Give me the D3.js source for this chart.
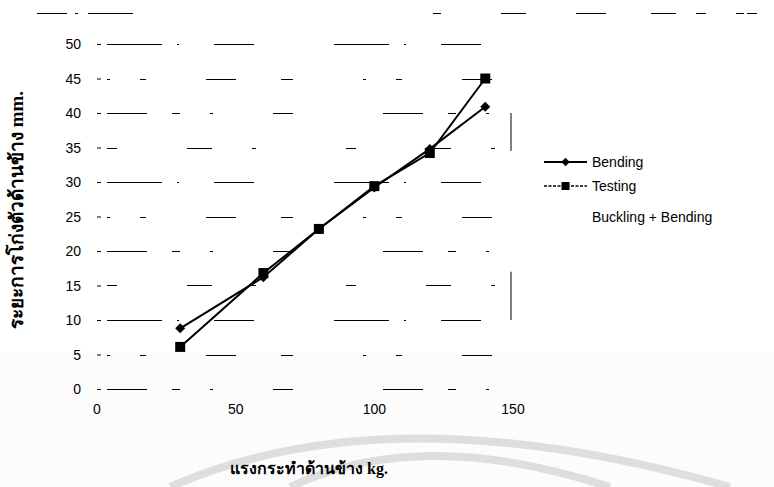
<!DOCTYPE html>
<html><head><meta charset="utf-8">
<script src="https://cdn.jsdelivr.net/npm/d3@7"></script>
<style>body{margin:0;background:#fff}svg{display:block}</style>
</head><body>
<svg id="c" width="774" height="487"></svg>
<script>
const loads = [30, 60, 80, 100, 120, 140];
const bending = [8.8, 16.2, 23.2, 29.2, 34.8, 40.9];
const testing = [6.1, 16.8, 23.2, 29.4, 34.2, 45.0];
const yTicks = [0, 5, 10, 15, 20, 25, 30, 35, 40, 45, 50];
const xTicks = [0, 50, 100, 150];
const seriesNames = ["Bending", "Testing"];
const legendExtra = "Buckling + Bending";
const yTitle = "ระยะการโก่งตัวด้านข้าง  mm.";
const xTitle = "แรงกระทำด้านข้าง kg.";

const svg = d3.select("#c");
const x = d3.scaleLinear().domain([0, 150]).range([97, 513]);
const y = d3.scaleLinear().domain([0, 50]).range([389, 44]);

// faint scan shading + watermark arcs
svg.append("rect").attr("x", 0).attr("y", 352).attr("width", 774).attr("height", 135).attr("fill", "#fcfcfc");
const wm = svg.append("g").attr("fill", "none").attr("stroke", "#dedede").attr("stroke-width", 8);
wm.append("path").attr("d", "M170,487 Q390,390 730,487");
wm.append("path").attr("d", "M290,487 Q420,425 610,487");

// fragmented gridlines (scan artefacts)
const grid = svg.append("g").attr("stroke", "#000").attr("stroke-width", 1).attr("shape-rendering", "crispEdges");
grid.selectAll("line.h").data(yTicks).join("line")
  .attr("x1", x(0) + 10).attr("x2", x(150))
  .attr("y1", d => Math.round(y(d))).attr("y2", d => Math.round(y(d)))
  .attr("stroke-dasharray", (d, i) => ["40,25,8,30,3,60,20,90", "3,30,6,60,30,45,12,70", "55,15,2,35,40,80", "10,70,25,40,4,90"][i % 4]);
// top border remnant
svg.append("line").attr("x1", 37).attr("x2", 774).attr("y1", 13).attr("y2", 13).attr("shape-rendering", "crispEdges")
  .attr("stroke", "#000").attr("stroke-width", 1).attr("stroke-dasharray", "30,8,3,10,45,300,8,60,25,50,30,45,25,20,10");

// y axis tick marks and labels
const yAx = svg.append("g").attr("transform", `translate(${x(0)},0)`)
  .call(d3.axisRight(y).tickValues(yTicks).tickSize(4).tickFormat(""));
yAx.select(".domain").remove();
yAx.selectAll("line").attr("stroke", "#000");
svg.append("g").selectAll("text").data(yTicks).join("text")
  .attr("x", 81).attr("y", d => y(d)).attr("dy", "0.36em")
  .attr("text-anchor", "end").attr("font-family", "Liberation Sans, Arial, sans-serif")
  .attr("font-size", 14).text(d => d);

// x axis labels
svg.append("g").selectAll("text").data(xTicks).join("text")
  .attr("x", d => x(d)).attr("y", 414).attr("text-anchor", "middle")
  .attr("font-family", "Liberation Sans, Arial, sans-serif").attr("font-size", 14).text(d => d);

// vertical fragments at right edge
svg.append("line").attr("x1", x(150) - 2).attr("x2", x(150) - 2).attr("y1", y(40)).attr("y2", y(34.5)).attr("stroke", "#000");
svg.append("line").attr("x1", x(150) - 2).attr("x2", x(150) - 2).attr("y1", y(17)).attr("y2", y(10)).attr("stroke", "#000");

// series
const line = d3.line().x(d => x(d[0])).y(d => y(d[1]));
const bData = loads.map((l, i) => [l, bending[i]]);
const tData = loads.map((l, i) => [l, testing[i]]);
svg.append("path").datum(bData).attr("d", line).attr("fill", "none").attr("stroke", "#000").attr("stroke-width", 2);
svg.append("path").datum(tData).attr("d", line).attr("fill", "none").attr("stroke", "#000").attr("stroke-width", 2);
svg.append("g").selectAll("path").data(bData).join("path")
  .attr("d", d3.symbol().type(d3.symbolSquare).size(50))
  .attr("transform", d => `translate(${x(d[0])},${y(d[1])}) rotate(45)`).attr("fill", "#000");
svg.append("g").selectAll("rect").data(tData).join("rect")
  .attr("x", d => x(d[0]) - 5).attr("y", d => y(d[1]) - 5).attr("width", 10).attr("height", 10).attr("fill", "#000");

// legend
const lg = svg.append("g").attr("font-family", "Liberation Sans, Arial, sans-serif").attr("font-size", 14);
const lx0 = 544, lx1 = 587;
[0, 1].forEach(i => {
  const ly = 162 + i * 24;
  lg.append("line").attr("x1", lx0).attr("x2", lx1).attr("y1", ly).attr("y2", ly)
    .attr("stroke", "#000").attr("stroke-width", i === 0 ? 2 : 1.3)
    .attr("stroke-dasharray", i === 0 ? null : "3,1.5");
  if (i === 0) lg.append("path").attr("d", d3.symbol().type(d3.symbolSquare).size(36)).attr("transform", `translate(${(lx0 + lx1) / 2},${ly}) rotate(45)`);
  else lg.append("rect").attr("x", (lx0 + lx1) / 2 - 4).attr("y", ly - 4).attr("width", 8).attr("height", 8);
  lg.append("text").attr("x", 592).attr("y", ly).attr("dy", "0.36em").text(seriesNames[i]);
});
lg.append("text").attr("x", 592).attr("y", 217).attr("dy", "0.36em").text(legendExtra);

// titles
svg.append("text").attr("transform", "translate(23,210) rotate(-90)").attr("text-anchor", "middle")
  .attr("font-family", "Liberation Serif, Times New Roman, serif").attr("font-weight", "bold").attr("font-size", 19).text(yTitle);
svg.append("text").attr("x", 309).attr("y", 474).attr("text-anchor", "middle")
  .attr("font-family", "Liberation Serif, Times New Roman, serif").attr("font-weight", "bold").attr("font-size", 16).text(xTitle);
</script>
</body></html>
